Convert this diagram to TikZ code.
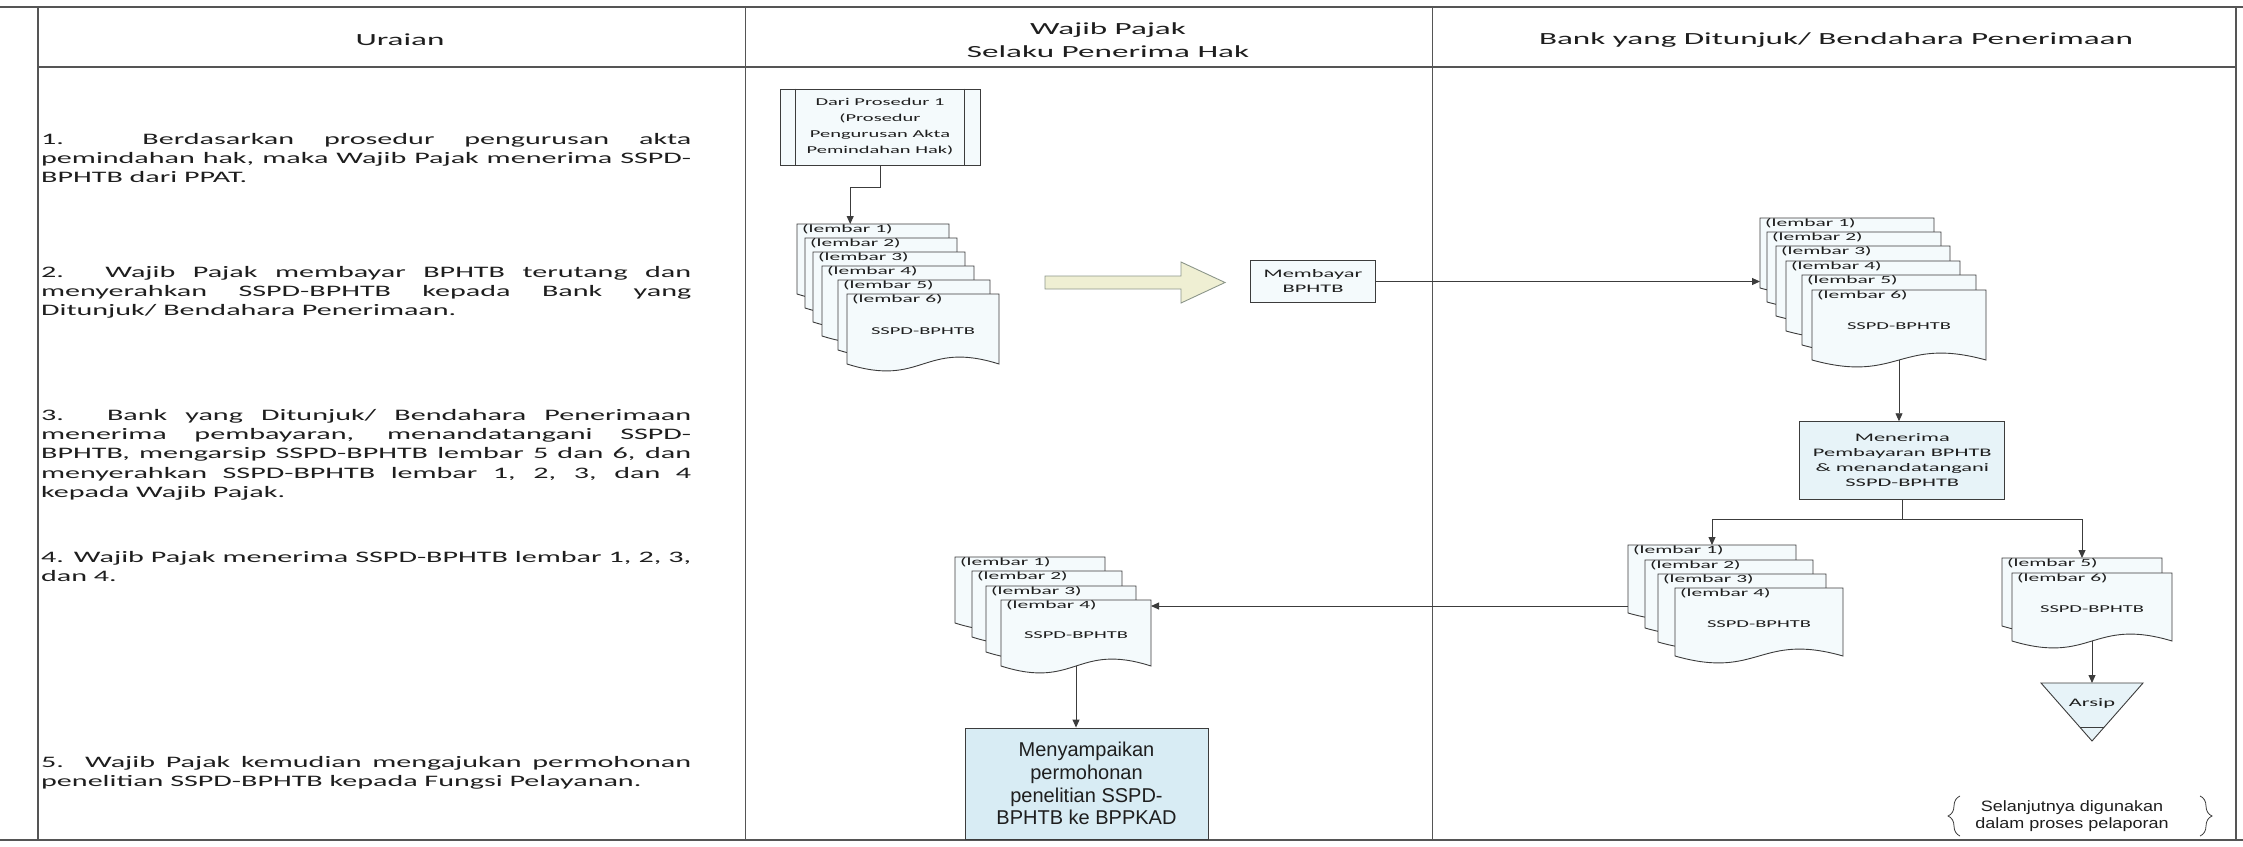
\documentclass[tikz,border=0pt]{standalone}
\usepackage{fontspec}
\setmainfont[FakeStretch=1.95]{Carlito}
\newfontfamily\descfont[FakeStretch=1.88]{Carlito}
\newfontfamily\arialfont{Liberation Sans}
\newfontfamily\arialwide[FakeStretch=1.2]{Liberation Sans}
\usetikzlibrary{arrows.meta,calc,decorations.pathreplacing}

\definecolor{ink}{HTML}{1E1E1E}
\definecolor{rule}{HTML}{555555}
\definecolor{edge}{HTML}{3C3C3C}
\definecolor{sheetfill}{HTML}{F4FAFC}
\definecolor{paleblue}{HTML}{E7F3F8}
\definecolor{midblue}{HTML}{D8ECF4}
\definecolor{cream}{HTML}{EFEFD3}
\definecolor{olive}{HTML}{8C968A}

\begin{document}
\begin{tikzpicture}[
  x=1pt, y=-1pt,
  font=\fontsize{11.5}{15}\selectfont, text=ink,
  frame/.style={draw=rule, line width=1.3pt},
  divider/.style={draw=rule, line width=1pt},
  head/.style={font=\fontsize{17}{23}\selectfont, align=center, inner sep=0pt},
  desc/.style={font=\descfont\fontsize{16}{19.3}\selectfont, text width=650pt, align=justify,
               anchor=north west, inner sep=0pt,
               execute at begin node={\tolerance=10000\hbadness=10000}},
  procbox/.style={draw=edge, line width=0.9pt, align=center, inner sep=0pt},
  sheet/.style={anchor=north west, inner sep=0pt, outer sep=0pt},
  sheetline/.style={draw=edge, line width=0.9pt, fill=sheetfill},
  lembar/.style={anchor=west, inner sep=0pt, font=\fontsize{11}{12}\selectfont},
  doctext/.style={font=\fontsize{10.5}{12}\selectfont},
  arr/.style={draw=edge, line width=0.9pt, -{Triangle[length=8pt,width=7pt]}},
  link/.style={draw=edge, line width=0.9pt},
  brace/.style={draw=edge, line width=0.8pt, decorate, decoration={brace, amplitude=12pt}}
]
\useasboundingbox (0,0) rectangle (2243,846);

% Table frame
\draw[frame] (0,7) -- (2243,7);
\draw[frame] (0,840) -- (2243,840);
\draw[frame] (38,7) -- (38,840);
\draw[frame] (2236,7) -- (2236,840);
\draw[frame] (38,67) -- (2236,67);
\draw[divider] (745,7) -- (745,840);
\draw[divider] (1432,7) -- (1432,840);

% Column heads
\node[head] (hUraian) at (400,40) {Uraian};
\node[head] (hWajib) at (1108,40) {Wajib Pajak\\Selaku Penerima Hak};
\node[head] (hBank) at (1836,40) {Bank yang Ditunjuk/ Bendahara Penerimaan};

% Uraian column
\node[desc] (u1) at (41,133) {1. Berdasarkan prosedur pengurusan akta\linebreak
  pemindahan hak, maka Wajib Pajak menerima SSPD-\linebreak BPHTB dari PPAT.};
\node[desc] (u2) at (41,266) {2. Wajib Pajak membayar BPHTB terutang dan\linebreak
  menyerahkan SSPD-BPHTB kepada Bank yang\linebreak Ditunjuk/ Bendahara Penerimaan.};
\node[desc] (u3) at (41,409) {3. Bank yang Ditunjuk/ Bendahara Penerimaan\linebreak
  menerima pembayaran, menandatangani SSPD-\linebreak
  BPHTB, mengarsip SSPD-BPHTB lembar 5 dan 6, dan\linebreak
  menyerahkan SSPD-BPHTB lembar 1, 2, 3, dan 4\linebreak kepada Wajib Pajak.};
\node[desc] (u4) at (41,551) {4. Wajib Pajak menerima SSPD-BPHTB lembar 1, 2, 3,\linebreak dan 4.};
\node[desc] (u5) at (41,756) {5. Wajib Pajak kemudian mengajukan permohonan\linebreak
  penelitian SSPD-BPHTB kepada Fungsi Pelayanan.};

% Wajib Pajak column
\node[procbox, fill=sheetfill, minimum width=200pt, minimum height=76pt,
      font=\fontsize{10.5}{16}\selectfont] (dari) at (880,127)
  {Dari Prosedur 1\\(Prosedur\\Pengurusan Akta\\Pemindahan Hak)};
\draw[link] ($(dari.north west)+(16,0)$) -- ($(dari.south west)+(16,0)$);
\draw[link] ($(dari.north east)+(-16,0)$) -- ($(dari.south east)+(-16,0)$);

\foreach \i/\x/\y in {1/797/224, 2/805/238, 3/813/252, 4/822/266, 5/838/280, 6/847/294}{
  \node[sheet, minimum width=152pt, minimum height=70pt] (A\i) at (\x,\y) {};
  \path[sheetline] (A\i.north west) -- (A\i.north east) -- (A\i.south east)
    .. controls ($(A\i.south)+(0,-24)$) and ($(A\i.south)+(0,24)$) .. (A\i.south west) -- cycle;
  \node[lembar] (lA\i) at ($(A\i.north west)+(5,5)$) {(lembar \i)};
}
\node[doctext] (docA) at ($(A6.north)+(0,37)$) {SSPD-BPHTB};

\filldraw[draw=olive, fill=cream, line width=0.9pt]
  (1045,276) -- (1181,276) -- (1181,262) -- (1225,282.5) -- (1181,303) -- (1181,289) -- (1045,289) -- cycle;

\node[procbox, fill=sheetfill, minimum width=125pt, minimum height=41.6pt] (bayar) at (1313,281.5)
  {Membayar\\BPHTB};

\foreach \i/\x/\y in {1/955/557, 2/972/571, 3/986/586, 4/1001/600}{
  \node[sheet, minimum width=150pt, minimum height=66pt] (E\i) at (\x,\y) {};
  \path[sheetline] (E\i.north west) -- (E\i.north east) -- (E\i.south east)
    .. controls ($(E\i.south)+(0,-24)$) and ($(E\i.south)+(0,24)$) .. (E\i.south west) -- cycle;
  \node[lembar] (lE\i) at ($(E\i.north west)+(5,5)$) {(lembar \i)};
}
\node[doctext] (docE) at ($(E4.north)+(0,35)$) {SSPD-BPHTB};

\node[procbox, fill=midblue, minimum width=243pt, minimum height=111pt,
      font=\arialfont\fontsize{20}{22.8}\selectfont] (ajukan) at (1086.5,783.5)
  {Menyampaikan\\permohonan\\penelitian SSPD-\\BPHTB ke BPPKAD};

% Bank column
\foreach \i/\x/\y in {1/1760/218, 2/1767/232, 3/1776/246, 4/1786/261, 5/1802/275, 6/1812/290}{
  \node[sheet, minimum width=174pt, minimum height=70pt] (B\i) at (\x,\y) {};
  \path[sheetline] (B\i.north west) -- (B\i.north east) -- (B\i.south east)
    .. controls ($(B\i.south)+(0,-24)$) and ($(B\i.south)+(0,24)$) .. (B\i.south west) -- cycle;
  \node[lembar] (lB\i) at ($(B\i.north west)+(5,5)$) {(lembar \i)};
}
\node[doctext] (docB) at ($(B6.north)+(0,36)$) {SSPD-BPHTB};

\node[procbox, fill=paleblue, minimum width=205pt, minimum height=77.6pt] (terima) at (1902.3,460.5)
  {Menerima\\Pembayaran BPHTB\\\& menandatangani\\SSPD-BPHTB};

\foreach \i/\x/\y in {1/1628/545, 2/1645/560, 3/1658/574, 4/1675/588}{
  \node[sheet, minimum width=168pt, minimum height=68pt] (C\i) at (\x,\y) {};
  \path[sheetline] (C\i.north west) -- (C\i.north east) -- (C\i.south east)
    .. controls ($(C\i.south)+(0,-24)$) and ($(C\i.south)+(0,24)$) .. (C\i.south west) -- cycle;
  \node[lembar] (lC\i) at ($(C\i.north west)+(5,5)$) {(lembar \i)};
}
\node[doctext] (docC) at ($(C4.north)+(0,36)$) {SSPD-BPHTB};

\foreach \i/\n/\x/\y in {1/5/2002/558, 2/6/2012/573}{
  \node[sheet, minimum width=160pt, minimum height=68pt] (D\i) at (\x,\y) {};
  \path[sheetline] (D\i.north west) -- (D\i.north east) -- (D\i.south east)
    .. controls ($(D\i.south)+(0,-24)$) and ($(D\i.south)+(0,24)$) .. (D\i.south west) -- cycle;
  \node[lembar] (lD\i) at ($(D\i.north west)+(5,5)$) {(lembar \n)};
}
\node[doctext] (docD) at ($(D2.north)+(0,36)$) {SSPD-BPHTB};

% Arsip
\path[draw=edge, line width=0.9pt, fill=paleblue] (2041,683) -- (2143,683) -- (2092,741) -- cycle;
\draw[link] (2079.6,727) -- (2104.4,727);
\node (arsip) at (2092,703) {Arsip};
\coordinate (arsipTop) at (2092,683);

\node[font=\arialwide\fontsize{15}{16.7}\selectfont, align=center] (lanjut) at (2072,816)
  {Selanjutnya digunakan\\dalam proses pelaporan};
\draw[brace] ($(lanjut.center)+(-112,20)$) -- ($(lanjut.center)+(-112,-20)$);
\draw[brace] ($(lanjut.center)+(128,-20)$) -- ($(lanjut.center)+(128,20)$);

% Connectors
\coordinate (aIn) at ($(A1.north west)!0.35!(A1.north east)$);
\draw[arr] (dari.south) -- ++(0,21.5) -| (aIn);
\draw[arr] (bayar.east) -- (bayar.east -| B1.west);
\draw[arr] (B6.south) -- (B6.south |- terima.north);
\coordinate (split) at ($(terima.south)+(0,20)$);
\draw[link] (terima.south) -- (split);
\draw[arr] (split) -| (C1.north);
\draw[arr] (split) -| (D1.north);
\coordinate (cOut) at ($(C1.south west)+(0,-7)$);
\draw[arr] (cOut) -- (cOut -| E4.east);
\draw[arr] (E4.south) -- (E4.south |- ajukan.north);
\draw[arr] (D2.south) -- (D2.south |- arsipTop);

\end{tikzpicture}
\end{document}
